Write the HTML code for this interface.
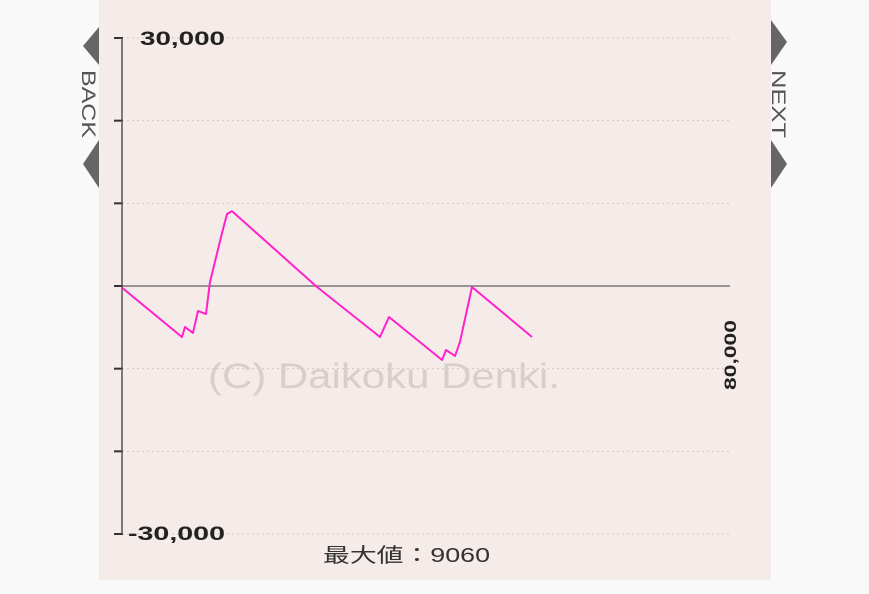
<!DOCTYPE html>
<html><head><meta charset="utf-8"><style>
html,body{margin:0;padding:0;background:#f9f9f9;}
body{width:869px;height:589px;overflow:hidden;position:relative;font-family:"Liberation Sans","Noto Sans CJK JP",sans-serif;}
</style></head><body>
<svg width="869" height="589" xmlns="http://www.w3.org/2000/svg">
<rect x="99" y="0" width="672" height="580" fill="#f5ebe8"/>
<g id="grid"></g>
<text x="208" y="388" font-size="35" fill="#d8cfcc" textLength="352" lengthAdjust="spacingAndGlyphs" font-family="Liberation Sans, sans-serif">(C) Daikoku Denki.</text>
<g id="axes"></g>
<polyline id="line" fill="none" stroke="#ff22cc" stroke-width="2" stroke-linejoin="round"/>
<text x="140" y="45" font-size="19" font-weight="bold" fill="#222" textLength="85" lengthAdjust="spacingAndGlyphs">30,000</text>
<text x="128" y="540" font-size="19" font-weight="bold" fill="#222" textLength="97" lengthAdjust="spacingAndGlyphs">-30,000</text>
<text transform="translate(736,390) rotate(-90)" font-size="17" font-weight="bold" fill="#222" textLength="70" lengthAdjust="spacingAndGlyphs">80,000</text>
<text x="323" y="562" font-size="20" fill="#333" textLength="167" lengthAdjust="spacingAndGlyphs">最大値：9060</text>
<g>
<polygon points="99,27 83,46 99,65" fill="#666"/>
<text transform="translate(82,70) rotate(90)" font-size="19" fill="#555" textLength="68" lengthAdjust="spacingAndGlyphs">BACK</text>
<polygon points="99,140 83,164 99,188" fill="#666"/>
</g>
<g>
<polygon points="771,20 787,42 771,65" fill="#666"/>
<text transform="translate(772,70) rotate(90)" font-size="19" fill="#555" textLength="68" lengthAdjust="spacingAndGlyphs">NEXT</text>
<polygon points="771,140 787,164 771,188" fill="#666"/>
</g>
</svg>
<script>
const xVals=[0,7890,8290,9340,10000,11050,11580,13160,13820,14470,25660,33950,35130,42110,42630,43820,44470,46050,53950];
const yVals=[-200,-6170,-4960,-5680,-3020,-3390,480,6410,8710,9060,-120,-6170,-3750,-8950,-7740,-8460,-6770,-120,-6170];
const yTicks=[30000,20000,10000,0,-10000,-20000,-30000];
const X=v=>122+v*(730-122)/80000;
const Y=v=>286-v*(533-37)/60000;
const ns="http://www.w3.org/2000/svg";
const grid=document.getElementById('grid'),axes=document.getElementById('axes');
yTicks.forEach(t=>{
 const l=document.createElementNS(ns,'line');
 l.setAttribute('x1',122);l.setAttribute('x2',730);l.setAttribute('y1',Y(t));l.setAttribute('y2',Y(t));
 if(t===0){l.setAttribute('stroke','#777');l.setAttribute('stroke-width','1.5');}
 else{l.setAttribute('stroke','#d0c8c6');l.setAttribute('stroke-dasharray','2,3');}
 
 
 grid.appendChild(l);
 const k=document.createElementNS(ns,'line');
 k.setAttribute('x1',114);k.setAttribute('x2',123);k.setAttribute('y1',Y(t));k.setAttribute('y2',Y(t));
 k.setAttribute('stroke','#333');k.setAttribute('stroke-width','2');
 
 
 axes.appendChild(k);
});
const ax=document.createElementNS(ns,'line');
ax.setAttribute('x1',122);ax.setAttribute('x2',122);ax.setAttribute('y1',Y(30000));ax.setAttribute('y2',Y(-30000));
ax.setAttribute('stroke','#555');ax.setAttribute('stroke-width','1.5');


axes.appendChild(ax);
document.getElementById('line').setAttribute('points',xVals.map((x,i)=>X(x)+','+Y(yVals[i])).join(' '));
</script>
</body></html>
